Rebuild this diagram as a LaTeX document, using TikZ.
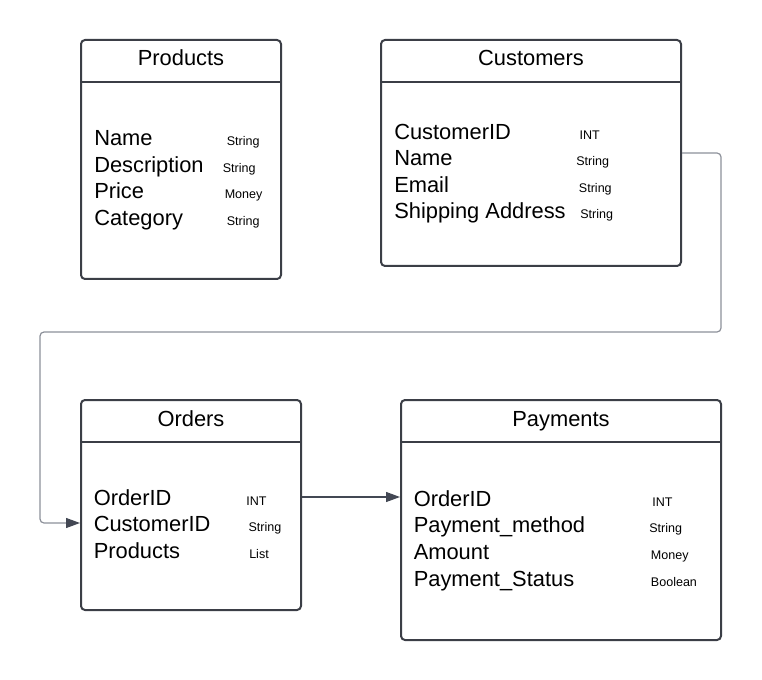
\documentclass[tikz,border=0pt]{standalone}
\usepackage{fontspec}
\setmainfont{Liberation Sans}
\usepackage{tikz}
\usetikzlibrary{arrows.meta}
\definecolor{boxline}{HTML}{3B3E46}
\definecolor{linkgray}{HTML}{8C9099}
\definecolor{linkdark}{HTML}{434854}

\tikzset{
  table/.style={draw=boxline, line width=1.5pt, rounded corners=3pt, inner sep=0pt},
  title/.style={anchor=base, font=\fontsize{16.4}{19}\selectfont},
  field/.style={anchor=base west, inner sep=0pt, font=\fontsize{16.4}{19}\selectfont},
  type/.style={anchor=base west, inner sep=0pt, font=\fontsize{9.4}{11}\selectfont},
  link/.style={line width=0.9pt, rounded corners=3pt, -{Triangle[length=10.5pt,width=7.5pt,color=linkdark]}}
}

\begin{document}
\begin{tikzpicture}[x=0.75pt,y=-0.75pt]
\useasboundingbox (0,0) rectangle (762,680);

% tables
\node[table, minimum width=150pt, minimum height=179.25pt] (products) at (181,159.5) {};
\node[table, minimum width=225pt, minimum height=169.5pt] (customers) at (531,153) {};
\node[table, minimum width=165pt, minimum height=157.5pt] (orders) at (191,505) {};
\node[table, minimum width=240pt, minimum height=180pt] (payments) at (561,520) {};

\draw[boxline, line width=1.5pt] ([yshift=-32.25pt]products.north west) -- ([yshift=-32.25pt]products.north east);
\draw[boxline, line width=1.5pt] ([yshift=-32.25pt]customers.north west) -- ([yshift=-32.25pt]customers.north east);
\draw[boxline, line width=1.5pt] ([yshift=-32.25pt]orders.north west) -- ([yshift=-32.25pt]orders.north east);
\draw[boxline, line width=1.5pt] ([yshift=-32.25pt]payments.north west) -- ([yshift=-32.25pt]payments.north east);

% Products
\node[title] (prodtitle) at (181,66) {Products};
\node[field] (prodname) at (94,146) {Name};
\node[field] (proddesc) at (94,172.5) {Description};
\node[field] (prodprice) at (94,199) {Price};
\node[field] (prodcat) at (94,225.5) {Category};
\node[type] (prodnamet) at (226.5,146) {String};
\node[type] (proddesct) at (222.5,172.5) {String};
\node[type] (prodpricet) at (224.5,199) {Money};
\node[type] (prodcatt) at (226.5,225.5) {String};

% Customers
\node[title] (custtitle) at (531,66) {Customers};
\node[field] (custid) at (394,139.3) {CustomerID};
\node[field] (custname) at (394,165.8) {Name};
\node[field] (custmail) at (394,192.3) {Email};
\node[field] (custaddr) at (394,218.8) {Shipping Address};
\node[type] (custidt) at (579.3,139.3) {INT};
\node[type] (custnamet) at (576,165.8) {String};
\node[type] (custmailt) at (578.7,192.3) {String};
\node[type] (custaddrt) at (580,218.8) {String};

% Orders
\node[title] (ordtitle) at (191,426) {Orders};
\node[field] (ordid) at (93.5,505) {OrderID};
\node[field] (ordcust) at (93.5,531.5) {CustomerID};
\node[field] (ordprod) at (93.5,558) {Products};
\node[type] (ordidt) at (246,505) {INT};
\node[type] (ordcustt) at (248.3,531.5) {String};
\node[type] (ordprodt) at (249,558) {List};

% Payments
\node[title] (paytitle) at (561,426) {Payments};
\node[field] (payid) at (413.5,506) {OrderID};
\node[field] (paymeth) at (413.5,532.8) {Payment\_method};
\node[field] (payamt) at (413.5,559.5) {Amount};
\node[field] (paystat) at (413.5,586.3) {Payment\_Status};
\node[type] (payidt) at (652,506) {INT};
\node[type] (paymetht) at (649,532.8) {String};
\node[type] (payamtt) at (650.7,559.5) {Money};
\node[type] (paystatt) at (650.7,586.3) {Boolean};

% connectors
\coordinate (custin) at (orders.west |- 0,523);
\draw[link, linkgray] (customers.east) -- (721,153) -- (721,332) -- (40,332) -- (40,523) -- (custin);
\coordinate (payout) at (orders.east |- 0,497);
\coordinate (payin) at (payments.west |- 0,497);
\draw[link, linkdark] (payout) -- (payin);

\end{tikzpicture}
\end{document}
